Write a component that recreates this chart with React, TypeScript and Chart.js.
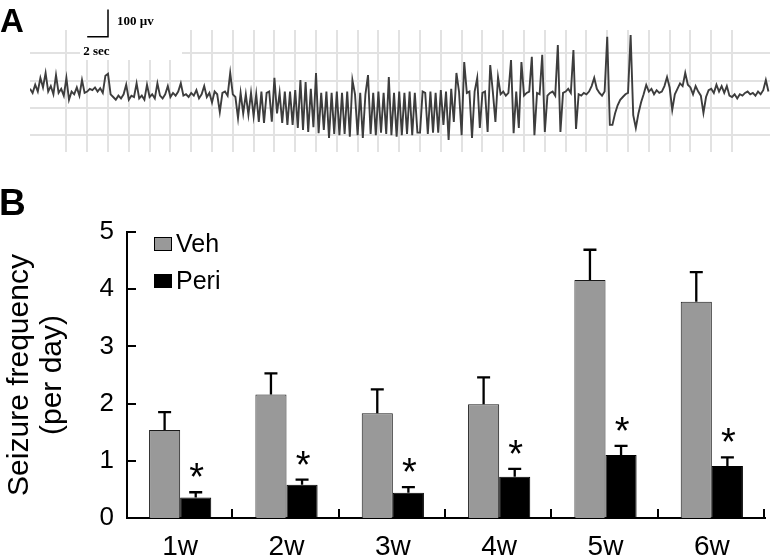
import React, { useEffect, useRef } from "react";
import { Chart, registerables } from "chart.js";

Chart.register(...registerables);

// ---------- Panel B data ----------
const weeks = ["1w", "2w", "3w", "4w", "5w", "6w"];
const vehMean = [1.54, 2.16, 1.83, 1.99, 4.16, 3.78];
const vehSem = [0.31, 0.37, 0.42, 0.47, 0.53, 0.52];
const periMean = [0.36, 0.58, 0.44, 0.72, 1.1, 0.91];
const periSem = [0.09, 0.09, 0.1, 0.14, 0.16, 0.15];
const periSignificant = [true, true, true, true, true, true];
const seriesNames = ["Veh", "Peri"];
const yAxisTitle = ["Seizure frequency", "(per day)"];
const yMin = 0;
const yMax = 5;
const yStep = 1;

// ---------- Panel A data (EEG trace, µV, sampled every 0.25 s) ----------
const traceStartSec = -1.5;
const traceStepSec = 0.25;
const traceMinSec = -1.5;
const traceMaxSec = 69.65;
const traceMinMicroV = -161;
const traceMaxMicroV = 285;
const gridSec = 2;
const gridMicroV = 100;
const scaleBarStartSec = 4;
const scaleBarBaseMicroV = 260;
const scaleBarSec = 2;
const scaleBarMicroV = 100;
const eegTrace = [
  70, 55, 85, 60, 110, 75, 128, 60, 80, 50,
  120, 55, 70, 45, 110, 30, 60, 50, 75, 45,
  102, 55, 60, 70, 65, 75, 60, 72, 55, 118,
  125, 50, 40, 30, 45, 35, 50, 85, 30, 45,
  40, 90, 35, 45, 30, 85, 40, 50, 35, 90,
  45, 35, 50, 80, 40, 55, 45, 60, 90, 45,
  50, 40, 55, 45, 65, 35, 50, 80, 40, 55,
  20, 60, 50, -15, 55, 60, 45, 128, 50, 40,
  -37, 55, -20, 50, -25, 55, -30, 50, -51, 60,
  -55, 55, 60, -50, 110, -20, 55, -55, 60, -62,
  60, -62, 65, -73, 102, -80, 95, -88, 70, -70,
  128, -92, 55, -80, 60, -110, 55, -95, 60, -100,
  55, -95, 60, -105, 102, 50, -100, 55, -110, 50,
  120, -95, 55, -100, 60, -90, 55, -95, 113, -100,
  55, -105, 60, -100, 55, -95, 60, -100, 55, -90,
  -90, 60, 55, -95, 60, -90, 55, -90, 65, -62,
  60, -117, 70, -51, 128, 60, -100, 168, 55, 60,
  -110, 60, 110, -73, 55, 60, -88, 157, 60, -51,
  113, 50, 60, 45, 55, 175, -92, 60, -73, 168,
  45, 55, 60, 187, -100, 55, 50, 194, -88, 45,
  55, 60, 45, 230, -88, 55, 60, 70, 55, 212,
  -77, 50, 45, 55, 50, 60, 80, 110, 70, 55,
  45, 60, 260, -62, -62, -20, 10, 30, 40, 50,
  55, 267, -26, -73, -20, 20, 50, 84, 60, 70,
  50, 65, 55, 60, 80, 113, 75, -7, 50, 70,
  90, 80, 128, 85, 75, 50, 80, 60, 45, -18,
  40, 65, 70, 55, 85, 60, 80, 55, 80, 45,
  40, 50, 35, 50, 45, 55, 60, 50, 55, 45,
  60, 50, 65, 102, 60,
];

const SANS = "'Liberation Sans', Arial, Helvetica, sans-serif";
const SERIF = "'Liberation Serif', 'Times New Roman', serif";

const tracePlugin = {
  id: "traceDecor",
  beforeDatasetsDraw(chart: any) {
    const ctx = chart.ctx;
    ctx.save();
    ctx.fillStyle = "#ffffff";
    ctx.fillRect(80, 0, 102, 60);
    ctx.restore();
  },
  afterDraw(chart: any) {
    const { ctx } = chart;
    const xs = chart.scales.x;
    const ys = chart.scales.y;
    const x0 = xs.getPixelForValue(scaleBarStartSec);
    const x1 = xs.getPixelForValue(scaleBarStartSec + scaleBarSec);
    const y0 = ys.getPixelForValue(scaleBarBaseMicroV);
    const y1 = ys.getPixelForValue(scaleBarBaseMicroV + scaleBarMicroV);
    ctx.save();
    ctx.strokeStyle = "#000";
    ctx.lineWidth = 1.5;
    ctx.beginPath();
    ctx.moveTo(x0, y0);
    ctx.lineTo(x1, y0);
    ctx.lineTo(x1, y1);
    ctx.stroke();
    ctx.fillStyle = "#000";
    ctx.font = `bold 13px ${SERIF}`;
    ctx.textAlign = "left";
    ctx.textBaseline = "middle";
    ctx.fillText(`${scaleBarMicroV} µv`, x1 + 9, 22);
    ctx.fillText(`${scaleBarSec} sec`, x0 - 4, 52);
    ctx.font = `bold 33px ${SANS}`;
    ctx.textBaseline = "alphabetic";
    ctx.fillText("A", 0, 32);
    ctx.restore();
  },
};

const barPlugin = {
  id: "barDecor",
  afterDatasetsDraw(chart: any) {
    const { ctx } = chart;
    const ys = chart.scales.y;
    const semByDataset = [vehSem, periSem];
    ctx.save();
    ctx.strokeStyle = "#000";
    ctx.fillStyle = "#000";
    ctx.lineWidth = 2.3;
    chart.data.datasets.forEach((ds: any, di: number) => {
      const meta = chart.getDatasetMeta(di);
      meta.data.forEach((bar: any, i: number) => {
        const top = ys.getPixelForValue(ds.data[i] + semByDataset[di][i]);
        ctx.beginPath();
        ctx.moveTo(bar.x, bar.y);
        ctx.lineTo(bar.x, top);
        ctx.moveTo(bar.x - 6.5, top);
        ctx.lineTo(bar.x + 6.5, top);
        ctx.stroke();
        if (di === 1 && periSignificant[i]) {
          ctx.font = `38px ${SANS}`;
          ctx.textAlign = "center";
          ctx.textBaseline = "alphabetic";
          ctx.fillText("*", bar.x + 1, top - 2);
        }
      });
    });
    ctx.restore();
  },
  afterDraw(chart: any) {
    const { ctx, chartArea } = chart;
    const ys = chart.scales.y;
    ctx.save();
    ctx.strokeStyle = "#000";
    ctx.lineWidth = 2;
    for (let v = yMin; v <= yMax; v += yStep) {
      const py = Math.round(ys.getPixelForValue(v));
      ctx.beginPath();
      ctx.moveTo(chartArea.left, py);
      ctx.lineTo(chartArea.left + 9, py);
      ctx.stroke();
    }
    const n = weeks.length;
    const w = (chartArea.right - chartArea.left) / n;
    for (let i = 1; i <= n; i++) {
      const px = Math.round(chartArea.left + i * w) - 1;
      ctx.beginPath();
      ctx.moveTo(px, chartArea.bottom);
      ctx.lineTo(px, chartArea.bottom - 9);
      ctx.stroke();
    }
    ctx.lineWidth = 1;
    const rows = [84, 121];
    chart.data.datasets.forEach((ds: any, di: number) => {
      const cy = rows[di];
      ctx.fillStyle = ds.backgroundColor;
      ctx.fillRect(154, cy - 7, 18, 14);
      ctx.strokeStyle = "#000";
      ctx.strokeRect(154.5, cy - 6.5, 17, 13);
      ctx.fillStyle = "#000";
      ctx.font = `25px ${SANS}`;
      ctx.textAlign = "left";
      ctx.textBaseline = "middle";
      ctx.fillText(ds.label, 176, cy + 1);
    });
    ctx.font = `bold 37px ${SANS}`;
    ctx.textAlign = "left";
    ctx.textBaseline = "alphabetic";
    ctx.fillText("B", -1, 55);
    ctx.restore();
  },
};

function TracePanel() {
  const ref = useRef<HTMLCanvasElement>(null);
  useEffect(() => {
    if (!ref.current) return;
    const points = eegTrace.map((v, i) => ({ x: traceStartSec + i * traceStepSec, y: v }));
    const gridColorX = (c: any) => {
      const v = c.tick ? c.tick.value : NaN;
      return Math.abs(v % gridSec) < 1e-6 ? "#e2e2e2" : "rgba(0,0,0,0)";
    };
    const gridColorY = (c: any) => {
      const v = c.tick ? c.tick.value : NaN;
      return Math.abs(v % gridMicroV) < 1e-6 ? "#e2e2e2" : "rgba(0,0,0,0)";
    };
    const chart = new Chart(ref.current, {
      type: "line",
      data: {
        datasets: [
          {
            data: points,
            borderColor: "#3d3d3d",
            borderWidth: 1.9,
            pointRadius: 0,
            tension: 0,
            fill: false,
          },
        ],
      },
      options: {
        responsive: false,
        animation: false,
        events: [],
        layout: { padding: { left: 30, right: 4, top: 30, bottom: 8 } },
        plugins: { legend: { display: false }, tooltip: { enabled: false } },
        scales: {
          x: {
            type: "linear",
            min: traceMinSec,
            max: traceMaxSec,
            ticks: { display: false, stepSize: gridSec, maxTicksLimit: 200, autoSkip: false },
            grid: { color: gridColorX, lineWidth: 2, drawTicks: false },
            border: { display: false },
            afterFit: (s: any) => {
              s.height = 0;
            },
          },
          y: {
            type: "linear",
            min: traceMinMicroV,
            max: traceMaxMicroV,
            ticks: { display: false, stepSize: gridMicroV, maxTicksLimit: 200, autoSkip: false },
            grid: { color: gridColorY, lineWidth: 2, drawTicks: false },
            border: { display: false },
            afterFit: (s: any) => {
              s.width = 0;
            },
          },
        },
      } as any,
      plugins: [tracePlugin],
    });
    return () => chart.destroy();
  }, []);
  return (
    <canvas
      ref={ref}
      width={774}
      height={160}
      style={{ position: "absolute", left: 0, top: 0, display: "block" }}
    />
  );
}

function BarPanel() {
  const ref = useRef<HTMLCanvasElement>(null);
  useEffect(() => {
    if (!ref.current) return;
    const chart = new Chart(ref.current, {
      type: "bar",
      data: {
        labels: weeks,
        datasets: [
          {
            label: seriesNames[0],
            data: vehMean,
            backgroundColor: "#999999",
            borderColor: "#1a1a1a",
            borderWidth: 1,
            categoryPercentage: 0.585,
            barPercentage: 1,
          },
          {
            label: seriesNames[1],
            data: periMean,
            backgroundColor: "#000000",
            borderColor: "#000000",
            borderWidth: 1,
            categoryPercentage: 0.585,
            barPercentage: 1,
          },
        ],
      },
      options: {
        responsive: false,
        animation: false,
        events: [],
        layout: { padding: { left: 0, right: 9, top: 72, bottom: 0 } },
        plugins: { legend: { display: false }, tooltip: { enabled: false } },
        scales: {
          x: {
            type: "category",
            offset: true,
            grid: { display: false, drawTicks: false },
            border: { display: true, color: "#000", width: 2 },
            ticks: { color: "#000", font: { family: SANS, size: 28 }, padding: 12 },
            afterFit: (s: any) => {
              s.height = 41;
            },
          },
          y: {
            min: yMin,
            max: yMax,
            ticks: { stepSize: yStep, color: "#000", font: { family: SANS, size: 26 }, padding: 13 },
            grid: { display: false, drawTicks: false },
            border: { display: true, color: "#000", width: 2 },
            title: {
              display: true,
              text: yAxisTitle,
              color: "#000",
              font: { family: SANS, size: 30, lineHeight: 1.08 },
              padding: { top: 4, bottom: 0 },
            },
            afterFit: (s: any) => {
              s.width = 127;
            },
          },
        },
      } as any,
      plugins: [barPlugin],
    });
    return () => chart.destroy();
  }, []);
  return (
    <canvas
      ref={ref}
      width={774}
      height={399}
      style={{ position: "absolute", left: 0, top: 160, display: "block" }}
    />
  );
}

export default function App() {
  return (
    <div
      style={{
        position: "absolute",
        left: 0,
        top: 0,
        width: 774,
        height: 559,
        background: "#ffffff",
        overflow: "hidden",
      }}
    >
      <TracePanel />
      <BarPanel />
    </div>
  );
}
